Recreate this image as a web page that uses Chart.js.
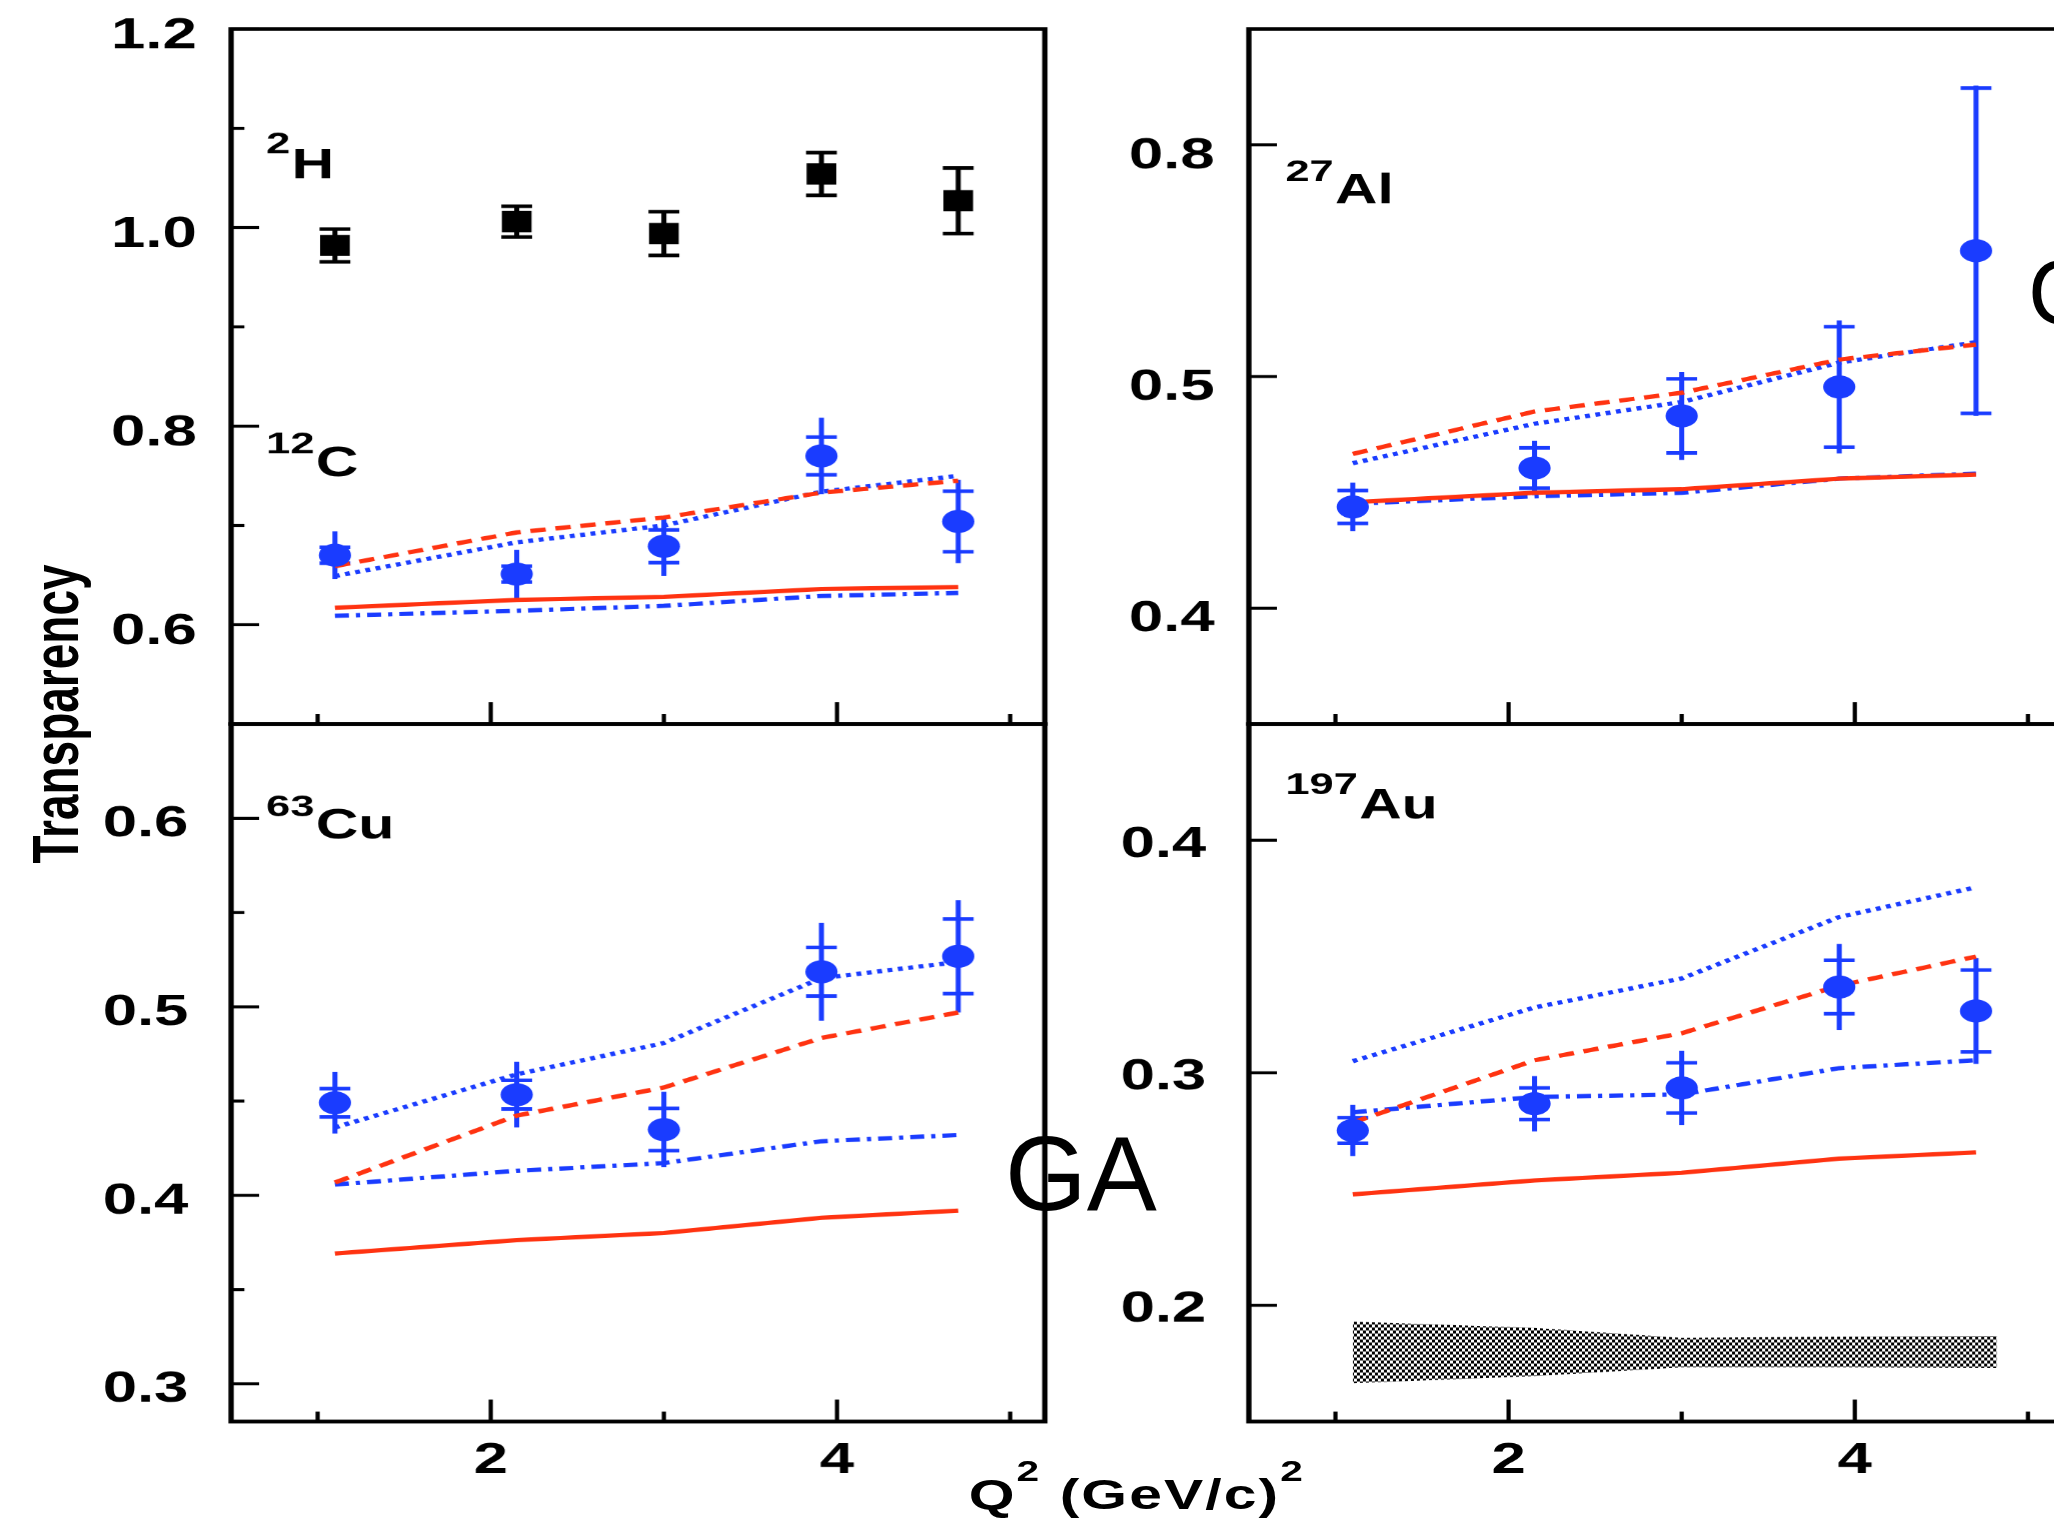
<!DOCTYPE html>
<html>
<head>
<meta charset="utf-8">
<script src="https://cdn.jsdelivr.net/npm/chart.js@4.4.1/dist/chart.umd.min.js"></script>
<style>
html, body { margin: 0; padding: 0; overflow: hidden; background: #fff; width: 2054px; height: 1519px; }
#wrap { position: absolute; left: 0; top: 0; width: 1500px; height: 1519px; transform: scaleX(1.4); transform-origin: 0 0; }
.panel { position: absolute; }
#ytitle { position: absolute; left: 40px; top: 714px; transform: translate(-50%, -50%) rotate(-90deg);
  font: bold 46px "Liberation Sans"; line-height: 50px; white-space: nowrap; color: #000; }
#xtitle { position: absolute; left: 812px; top: 1470px; transform: translateX(-50%);
  font: bold 42px "Liberation Sans"; line-height: 50px; letter-spacing: 1.5px; white-space: nowrap; color: #000; }
#xtitle .sup { font-size: 29px; position: relative; top: -28px; }
.ga { position: absolute; font-family: "Liberation Sans"; font-weight: normal; line-height: 1; white-space: nowrap; color: #000; }
</style>
</head>
<body>
<div id="wrap">
  <div id="ytitle">Transparency</div>
  <div id="xtitle">Q<span class="sup">2</span> (GeV/c)<span class="sup">2</span></div>
</div>
<div class="ga" style="left:1005px; top:1121px; font-size:105px;">GA</div>
<div class="ga" style="left:2028px; top:248px; font-size:90px;">GA</div>
<script>
// Q^2 values of the five kinematic settings
const Q2 = [1.1, 2.15, 3.0, 3.91, 4.7];
const xMajor = [2, 4];
const xMinor = [1, 3, 5];

// 2H
const hVal = [0.982, 1.006, 0.994, 1.054, 1.027];
const hErr = [0.0165, 0.0155, 0.022, 0.0215, 0.033];

// 12C
const cVal = [0.670, 0.651, 0.679, 0.770, 0.704];
const cStat = [0.008, 0.008, 0.0165, 0.019, 0.0305];
const cTot = [0.024, 0.0245, 0.030, 0.0385, 0.042];
const cSolidRed = [0.617, 0.625, 0.628, 0.636, 0.638];
const cDashRed = [0.659, 0.693, 0.708, 0.733, 0.745];
const cDotBlue = [0.649, 0.683, 0.700, 0.734, 0.750];
const cDashDotBlue = [0.609, 0.614, 0.619, 0.629, 0.632];

// 27Al
const alVal = [0.4437, 0.4605, 0.483, 0.4955, 0.5543];
const alStat = [0.0071, 0.0087, 0.016, 0.026, 0.0702];
const alTot = [0.0105, 0.0117, 0.019, 0.0287, 0.0713];
const alSolidRed = [0.4457, 0.4498, 0.4514, 0.4559, 0.4577];
const alDashRed = [0.4666, 0.4849, 0.4930, 0.5073, 0.5138];
const alDotBlue = [0.4626, 0.4796, 0.489, 0.506, 0.5148];
const alDashDotBlue = [0.4451, 0.4483, 0.4498, 0.4559, 0.4581];

// 63Cu
const cuVal = [0.4491, 0.4534, 0.4349, 0.5186, 0.5268];
const cuStat = [0.0075, 0.0076, 0.0112, 0.0129, 0.0198];
const cuTot = [0.0163, 0.0174, 0.020, 0.026, 0.0298];
const cuSolidRed = [0.3691, 0.3762, 0.380, 0.3881, 0.3919];
const cuDashRed = [0.4068, 0.4423, 0.4572, 0.4835, 0.497];
const cuDotBlue = [0.436, 0.4642, 0.4808, 0.5152, 0.5238];
const cuDashDotBlue = [0.4057, 0.413, 0.4171, 0.4287, 0.432];

// 197Au
const auVal = [0.2752, 0.2867, 0.2935, 0.3369, 0.3266];
const auStat = [0.0055, 0.0068, 0.0108, 0.0115, 0.0176];
const auTot = [0.011, 0.0119, 0.016, 0.0185, 0.0228];
const auSolidRed = [0.2477, 0.2537, 0.257, 0.2631, 0.2658];
const auDashRed = [0.2786, 0.3054, 0.317, 0.3375, 0.35];
const auDotBlue = [0.305, 0.3281, 0.3406, 0.367, 0.3798];
const auDashDotBlue = [0.283, 0.2896, 0.2907, 0.302, 0.3054];
const bandQ2 = [1.1, 2.15, 3.0, 3.9, 4.82];
const auBandHigh = [0.193, 0.1903, 0.186, 0.1865, 0.1868];
const auBandLow = [0.1665, 0.1695, 0.1733, 0.1733, 0.173];

// y axis ticks
const hcTicks = [0.6, 0.8, 1.0, 1.2], hcTickLabels = ['0.6', '0.8', '1.0', '1.2'], hcMinor = [0.7, 0.9, 1.1];
const alTicks = [0.4, 0.5, 0.6], alTickLabels = ['0.4', '0.5', '0.8'], alMinor = [];
const cuTicks = [0.3, 0.4, 0.5, 0.6], cuTickLabels = ['0.3', '0.4', '0.5', '0.6'], cuMinor = [0.35, 0.45, 0.55];
const auTicks = [0.2, 0.3, 0.4], auTickLabels = ['0.2', '0.3', '0.4'], auMinor = [];

const RED = '#ff3311';
const BLUE = '#1a3cff';
const FONT = 'Liberation Sans';

const pts = (xs, ys) => xs.map((x, i) => ({ x: x, y: ys[i] }));

function theory(ys, style) {
  const s = {
    solid: { color: RED, dash: [] },
    dash: { color: RED, dash: [11, 7] },
    dot: { color: BLUE, dash: [3.5, 4] },
    dashdot: { color: BLUE, dash: [10, 5, 3, 5] }
  }[style];
  return { data: pts(Q2, ys), borderColor: s.color, borderDash: s.dash, borderWidth: 4.3,
           pointRadius: 0, fill: false, tension: 0 };
}

function measured(ys, stat, tot, color, shape) {
  return { data: pts(Q2, ys), showLine: false, pointStyle: shape,
           pointRadius: shape === 'rect' ? 15 : 11.5, pointBorderWidth: 0,
           backgroundColor: color, borderColor: color, errStat: stat, errTot: tot };
}

function checker() {
  const c = document.createElement('canvas');
  c.width = 6; c.height = 6;
  const g = c.getContext('2d');
  g.fillStyle = '#fff'; g.fillRect(0, 0, 6, 6);
  g.fillStyle = '#000'; g.fillRect(0, 0, 3, 3); g.fillRect(3, 3, 3, 3);
  const p = g.createPattern(c, 'repeat');
  p.setTransform(new DOMMatrix([1 / 1.4, 0, 0, 1, 0, 0]));
  return p;
}

const framePlugin = {
  id: 'frame',
  beforeDatasetsDraw(chart) {
    const ctx = chart.ctx, xs = chart.scales.x, ys = chart.scales.y;
    chart.data.datasets.forEach(ds => {
      if (!ds.errTot) return;
      ctx.save();
      ctx.strokeStyle = ds.backgroundColor;
      ctx.lineWidth = 3.6;
      ds.data.forEach((p, i) => {
        const x = xs.getPixelForValue(p.x);
        ctx.beginPath();
        ctx.moveTo(x, ys.getPixelForValue(p.y + ds.errTot[i]));
        ctx.lineTo(x, ys.getPixelForValue(p.y - ds.errTot[i]));
        ctx.stroke();
        const bar = ds.errStat ? ds.errStat[i] : ds.errTot[i];
        [1, -1].forEach(s => {
          const y = ys.getPixelForValue(p.y + s * bar);
          ctx.beginPath(); ctx.moveTo(x - 11, y); ctx.lineTo(x + 11, y); ctx.stroke();
        });
      });
      ctx.restore();
    });
  },
  afterDraw(chart, args, opts) {
    const ctx = chart.ctx, a = chart.chartArea, xs = chart.scales.x, ys = chart.scales.y;
    ctx.save();
    ctx.strokeStyle = '#000';
    ctx.lineWidth = 3;
    const yt = (v, len) => {
      const y = ys.getPixelForValue(v);
      ctx.beginPath(); ctx.moveTo(a.left, y); ctx.lineTo(a.left + len, y); ctx.stroke();
    };
    const xt = (v, len) => {
      const x = xs.getPixelForValue(v);
      ctx.beginPath(); ctx.moveTo(x, a.bottom); ctx.lineTo(x, a.bottom - len); ctx.stroke();
    };
    opts.yMajor.forEach(v => yt(v, 20));
    opts.yMinor.forEach(v => yt(v, 9.5));
    xMajor.forEach(v => xt(v, 22));
    xMinor.forEach(v => xt(v, 10));
    ctx.lineWidth = 3.8;
    ctx.strokeRect(a.left, a.top, a.right - a.left, a.bottom - a.top);

    // nucleus labels
    ctx.fillStyle = '#000';
    ctx.textBaseline = 'alphabetic';
    ctx.textAlign = 'left';
    opts.labels.forEach(L => {
      ctx.font = 'bold 31px "' + FONT + '"';
      ctx.fillText(L.sup, a.left + L.x, a.top + L.supY);
      const w = ctx.measureText(L.sup).width;
      ctx.font = 'bold 42px "' + FONT + '"';
      ctx.fillText(L.main, a.left + L.x + w + 1, a.top + L.mainY);
    });
    ctx.restore();
  }
};

const wrap = document.getElementById('wrap');

function makeChart(p) {
  const div = document.createElement('div');
  div.className = 'panel';
  div.style.left = (p.left - 120) + 'px';
  div.style.top = (p.top - 60) + 'px';
  const cv = document.createElement('canvas');
  cv.width = Math.round(p.w + 140);
  cv.height = Math.round(p.h + 140);
  div.appendChild(cv);
  wrap.appendChild(div);
  const tickFont = { family: FONT, size: 44, weight: 'bold' };
  new Chart(cv, {
    type: 'line',
    data: { datasets: p.datasets },
    options: {
      responsive: false,
      animation: false,
      devicePixelRatio: 1.4,
      layout: { padding: { left: 0, top: 60, right: 20, bottom: 0 } },
      plugins: {
        legend: { display: false },
        tooltip: { enabled: false },
        frame: { yMajor: p.yTicks, yMinor: p.yMinor, labels: p.labels }
      },
      scales: {
        x: {
          type: 'linear', min: 0.5, max: 5.2,
          grid: { display: false }, border: { display: false },
          afterBuildTicks: s => { s.ticks = xMajor.map(v => ({ value: v })); },
          afterFit: s => { s.height = 80; },
          ticks: { display: p.xLabels, padding: 5, color: '#000', font: tickFont,
                   maxRotation: 0, autoSkip: false, callback: v => String(v) }
        },
        y: {
          type: 'linear', min: p.ymin, max: p.ymax,
          grid: { display: false }, border: { display: false },
          afterBuildTicks: s => { s.ticks = p.yTicks.map(v => ({ value: v })); },
          afterFit: s => { s.width = 120; },
          ticks: { padding: p.yPad, labelOffset: p.yShift, color: '#000', font: tickFont,
                   autoSkip: false, callback: (v, i) => p.yLabels[i] }
        }
      }
    },
    plugins: [framePlugin]
  });
}

const LEFT = 165, RIGHT = 892.1, W = 581.4;

makeChart({
  left: LEFT, top: 29, w: W, h: 695, ymin: 0.5, ymax: 1.2,
  yTicks: hcTicks, yLabels: hcTickLabels, yMinor: hcMinor, yPad: 16.5, yShift: 7, xLabels: false,
  labels: [{ sup: '2', main: 'H', x: 25, supY: 124, mainY: 149 },
           { sup: '12', main: 'C', x: 25, supY: 424, mainY: 447 }],
  datasets: [
    measured(hVal, null, hErr, '#000', 'rect'),
    measured(cVal, cStat, cTot, BLUE, 'circle'),
    theory(cSolidRed, 'solid'), theory(cDashRed, 'dash'),
    theory(cDotBlue, 'dot'), theory(cDashDotBlue, 'dashdot')
  ]
});

makeChart({
  left: RIGHT, top: 29, w: W, h: 695, ymin: 0.35, ymax: 0.65,
  yTicks: alTicks, yLabels: alTickLabels, yMinor: alMinor, yPad: 16.5, yShift: 11, xLabels: false,
  labels: [{ sup: '27', main: 'Al', x: 26, supY: 152, mainY: 174 }],
  datasets: [
    measured(alVal, alStat, alTot, BLUE, 'circle'),
    theory(alSolidRed, 'solid'), theory(alDashRed, 'dash'),
    theory(alDotBlue, 'dot'), theory(alDashDotBlue, 'dashdot')
  ]
});

makeChart({
  left: LEFT, top: 724, w: W, h: 697, ymin: 0.28, ymax: 0.65,
  yTicks: cuTicks, yLabels: cuTickLabels, yMinor: cuMinor, yPad: 22.5, yShift: 6, xLabels: true,
  labels: [{ sup: '63', main: 'Cu', x: 25, supY: 92, mainY: 114 }],
  datasets: [
    measured(cuVal, cuStat, cuTot, BLUE, 'circle'),
    theory(cuSolidRed, 'solid'), theory(cuDashRed, 'dash'),
    theory(cuDotBlue, 'dot'), theory(cuDashDotBlue, 'dashdot')
  ]
});

makeChart({
  left: RIGHT, top: 724, w: W, h: 697, ymin: 0.15, ymax: 0.45,
  yTicks: auTicks, yLabels: auTickLabels, yMinor: auMinor, yPad: 22.5, yShift: 4.5, xLabels: true,
  labels: [{ sup: '197', main: 'Au', x: 26, supY: 70, mainY: 94 }],
  datasets: [
    measured(auVal, auStat, auTot, BLUE, 'circle'),
    theory(auSolidRed, 'solid'), theory(auDashRed, 'dash'),
    theory(auDotBlue, 'dot'), theory(auDashDotBlue, 'dashdot'),
    { data: pts(bandQ2, auBandLow), borderWidth: 0, borderColor: 'transparent', pointRadius: 0, fill: false },
    { data: pts(bandQ2, auBandHigh), borderWidth: 0, borderColor: 'transparent', pointRadius: 0,
      fill: '-1', backgroundColor: checker() }
  ]
});
</script>
</body>
</html>
